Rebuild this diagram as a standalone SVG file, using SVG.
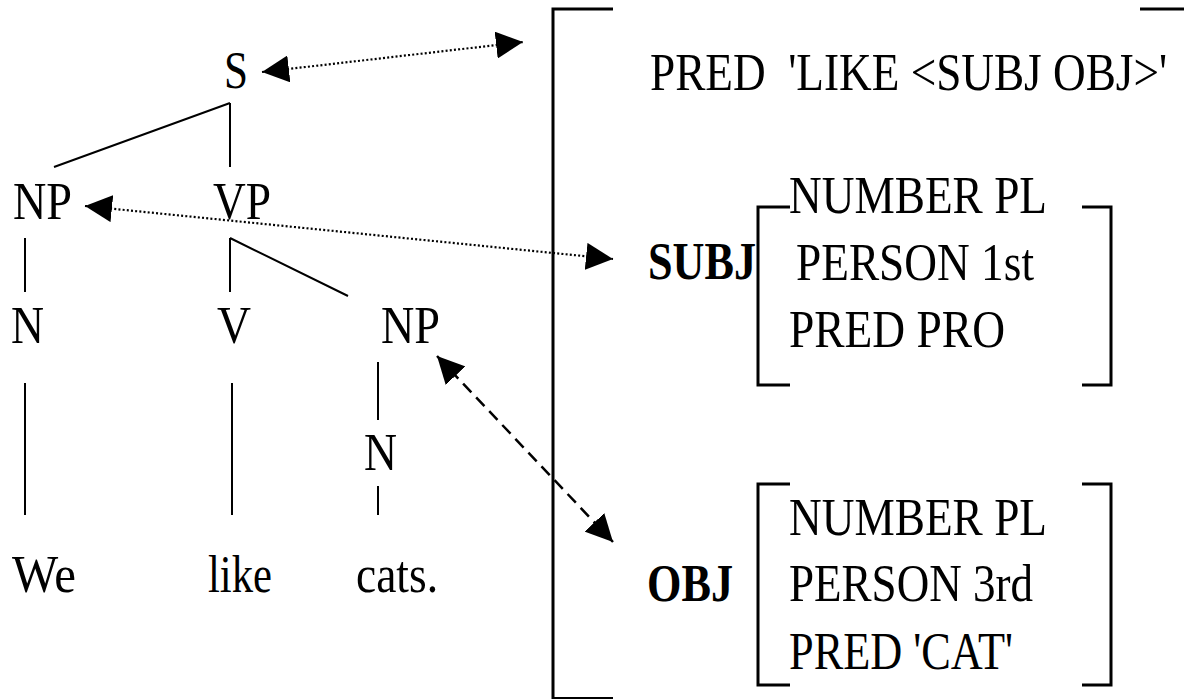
<svg xmlns="http://www.w3.org/2000/svg" width="1184" height="699" viewBox="0 0 1184 699">
<defs>
<style>
text{font-family:"Liberation Serif","Times New Roman",serif;font-size:52px;fill:#000}
.b{font-weight:bold}
.ln{stroke:#000;stroke-width:2;fill:none}
.dot{stroke:#000;stroke-width:2.2;fill:none;stroke-dasharray:2 2.2}
.dash{stroke:#000;stroke-width:2.5;fill:none;stroke-dasharray:12 7}
.br{stroke:#000;stroke-width:3;fill:none}
</style>
<marker id="ah" viewBox="0 0 27 27" refX="27" refY="13.5" markerWidth="27" markerHeight="27" markerUnits="userSpaceOnUse" orient="auto-start-reverse">
<path d="M0,0 L27,13.5 L0,27 z" fill="#000"/>
</marker>
</defs>
<rect width="1184" height="699" fill="#fff"/>
<g id="tree-edges">
<path class="ln" d="M230,103 V167 M230,103 L54,167"/>
<path class="ln" d="M25,238 V292"/>
<path class="ln" d="M230,238 V292 M230,238 L348,296"/>
<path class="ln" d="M25,383 V515 M232,383 V515"/>
<path class="ln" d="M378,362 V420 M378,486 V515"/>
</g>
<g id="node-S"><text x="224" y="88" textLength="24" lengthAdjust="spacingAndGlyphs">S</text></g>
<g id="node-NP1"><text x="13" y="219" textLength="59" lengthAdjust="spacingAndGlyphs">NP</text></g>
<g id="node-VP"><text x="213" y="219" textLength="58" lengthAdjust="spacingAndGlyphs">VP</text></g>
<g id="node-N1"><text x="11" y="343" textLength="33" lengthAdjust="spacingAndGlyphs">N</text></g>
<g id="node-V"><text x="217" y="343" textLength="34" lengthAdjust="spacingAndGlyphs">V</text></g>
<g id="node-NP2"><text x="381" y="343" textLength="59" lengthAdjust="spacingAndGlyphs">NP</text></g>
<g id="node-N2"><text x="364" y="470" textLength="33" lengthAdjust="spacingAndGlyphs">N</text></g>
<g id="word-we"><text x="12" y="592" textLength="64" lengthAdjust="spacingAndGlyphs">We</text></g>
<g id="word-like"><text x="208" y="592" textLength="64" lengthAdjust="spacingAndGlyphs">like</text></g>
<g id="word-cats"><text x="356" y="592" textLength="82" lengthAdjust="spacingAndGlyphs">cats.</text></g>
<g id="fstruct">
<path class="br" d="M613,9 H553 V698.5 H613"/>
<path class="br" d="M1140,9 H1184"/>
<text transform="translate(650,90) scale(0.87,1)" x="0" y="0">PRED&#160; 'LIKE &lt;SUBJ OBJ&gt;'</text>
</g>
<g id="subj">
<text class="b" x="648" y="279" textLength="108" lengthAdjust="spacingAndGlyphs">SUBJ</text>
<path class="br" d="M790,207 H758 V385 H790 M1082,207 H1111 V385 H1082"/>
<text x="789" y="213" textLength="258" lengthAdjust="spacingAndGlyphs">NUMBER PL</text>
<text x="796" y="280" textLength="238" lengthAdjust="spacingAndGlyphs">PERSON 1st</text>
<text x="789" y="347" textLength="216" lengthAdjust="spacingAndGlyphs">PRED PRO</text>
</g>
<g id="obj">
<text class="b" x="647" y="601" textLength="86" lengthAdjust="spacingAndGlyphs">OBJ</text>
<path class="br" d="M790,484 H758 V685 H790 M1082,484 H1111 V685 H1082"/>
<text x="789" y="535" textLength="258" lengthAdjust="spacingAndGlyphs">NUMBER PL</text>
<text x="789" y="601" textLength="244" lengthAdjust="spacingAndGlyphs">PERSON 3rd</text>
<text x="789" y="669" textLength="224" lengthAdjust="spacingAndGlyphs">PRED 'CAT'</text>
</g>
<g id="connectors">
<line class="dot" x1="262" y1="72" x2="523" y2="42" marker-start="url(#ah)" marker-end="url(#ah)"/>
<line class="dot" x1="85" y1="206" x2="613" y2="259" marker-start="url(#ah)" marker-end="url(#ah)"/>
<line class="dash" x1="437" y1="356" x2="613" y2="542" marker-start="url(#ah)" marker-end="url(#ah)"/>
</g>
</svg>
